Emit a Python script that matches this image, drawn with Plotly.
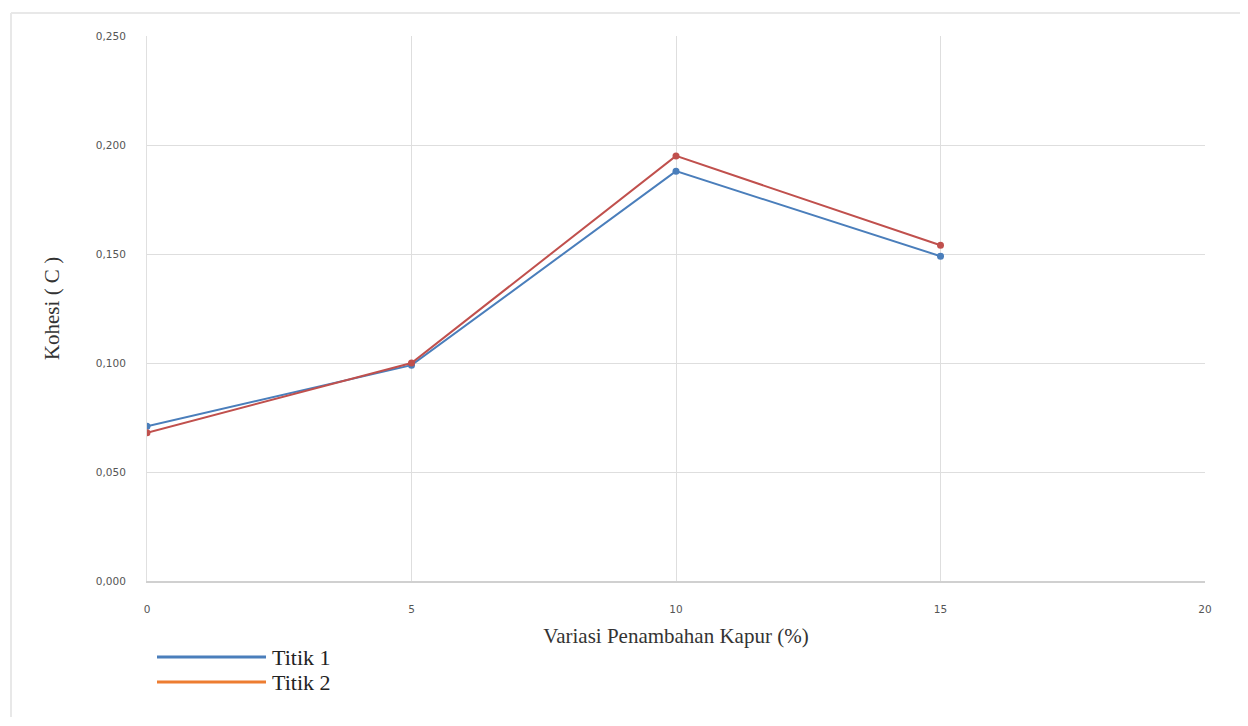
import plotly.graph_objects as go

# ---- data ----
kapur = [0, 5, 10, 15]
titik1 = [0.071, 0.099, 0.188, 0.149]
titik2 = [0.068, 0.100, 0.195, 0.154]
x_ticks = [0, 5, 10, 15, 20]
y_ticks = [0.0, 0.05, 0.10, 0.15, 0.20, 0.25]
y_tick_labels = ["0,000", "0,050", "0,100", "0,150", "0,200", "0,250"]
series_names = ["Titik 1", "Titik 2"]

# page body has an 8px margin; compensate
OFF = 8
W, H = 1248 - 2 * OFF, 726 - 2 * OFF
L, R, T, B = 147, 1205, 36, 581  # target screen pixels of plot area

blue = "#4a7ebb"
red = "#c0504d"
orange = "#ed7d31"

fig = go.Figure()
fig.add_trace(go.Scatter(x=kapur, y=titik1, mode="lines+markers", name=series_names[0],
                         line=dict(color=blue, width=2), marker=dict(size=7, color=blue),
                         showlegend=False))
fig.add_trace(go.Scatter(x=kapur, y=titik2, mode="lines+markers", name=series_names[1],
                         line=dict(color=red, width=2), marker=dict(size=7, color=red),
                         showlegend=False))

def py(pix):
    return (B - pix) / (B - T)

def px(pix):
    return (pix - L) / (R - L)

frame_col = "#e8e8e8"
shapes = [
    dict(type="line", xref="paper", yref="paper", x0=px(11), x1=px(11), y0=py(717), y1=py(13),
         line=dict(color=frame_col, width=2), layer="below"),
    dict(type="line", xref="paper", yref="paper", x0=px(11), x1=px(1240), y0=py(13), y1=py(13),
         line=dict(color=frame_col, width=2), layer="below"),
]
annotations = []
leg_items = [(series_names[0], blue, 657), (series_names[1], orange, 682)]
for name, col, ypix in leg_items:
    shapes.append(dict(type="line", xref="paper", yref="paper", x0=px(157), x1=px(266),
                       y0=py(ypix), y1=py(ypix), line=dict(color=col, width=3)))
    annotations.append(dict(text=name, xref="paper", yref="paper", x=px(270), y=py(ypix),
                            xanchor="left", yanchor="middle", showarrow=False,
                            font=dict(family="Liberation Serif", size=22, color="#222222")))

fig.update_layout(
    width=W, height=H,
    margin=dict(l=L - OFF, r=(OFF + W) - R, t=T - OFF, b=(OFF + H) - B),
    paper_bgcolor="white", plot_bgcolor="white",
    shapes=shapes, annotations=annotations,
    showlegend=False,
    xaxis=dict(range=[0, 20], tickvals=x_ticks, ticktext=[str(v) for v in x_ticks],
               showgrid=True, gridcolor="#dedede", gridwidth=1,
               zeroline=False, showline=True, linecolor="#d0d0d0", linewidth=1.5,
               ticks="", ticklabelstandoff=18,
               tickfont=dict(family="DejaVu Sans", size=10.5, color="#555555"),
               title=dict(text="Variasi Penambahan Kapur (%)", standoff=14,
                          font=dict(family="Liberation Serif", size=21, color="#333333"))),
    yaxis=dict(range=[0, 0.25], tickvals=y_ticks, ticktext=y_tick_labels,
               showgrid=True, gridcolor="#dedede", gridwidth=1,
               zeroline=False, showline=True, linecolor="#e0e0e0", linewidth=1,
               ticks="", ticklabelstandoff=18,
               tickfont=dict(family="DejaVu Sans", size=10.5, color="#555555"),
               title=dict(text="Kohesi ( C )", standoff=30,
                          font=dict(family="Liberation Serif", size=21, color="#333333"))),
)

fig.write_html("out.html")
